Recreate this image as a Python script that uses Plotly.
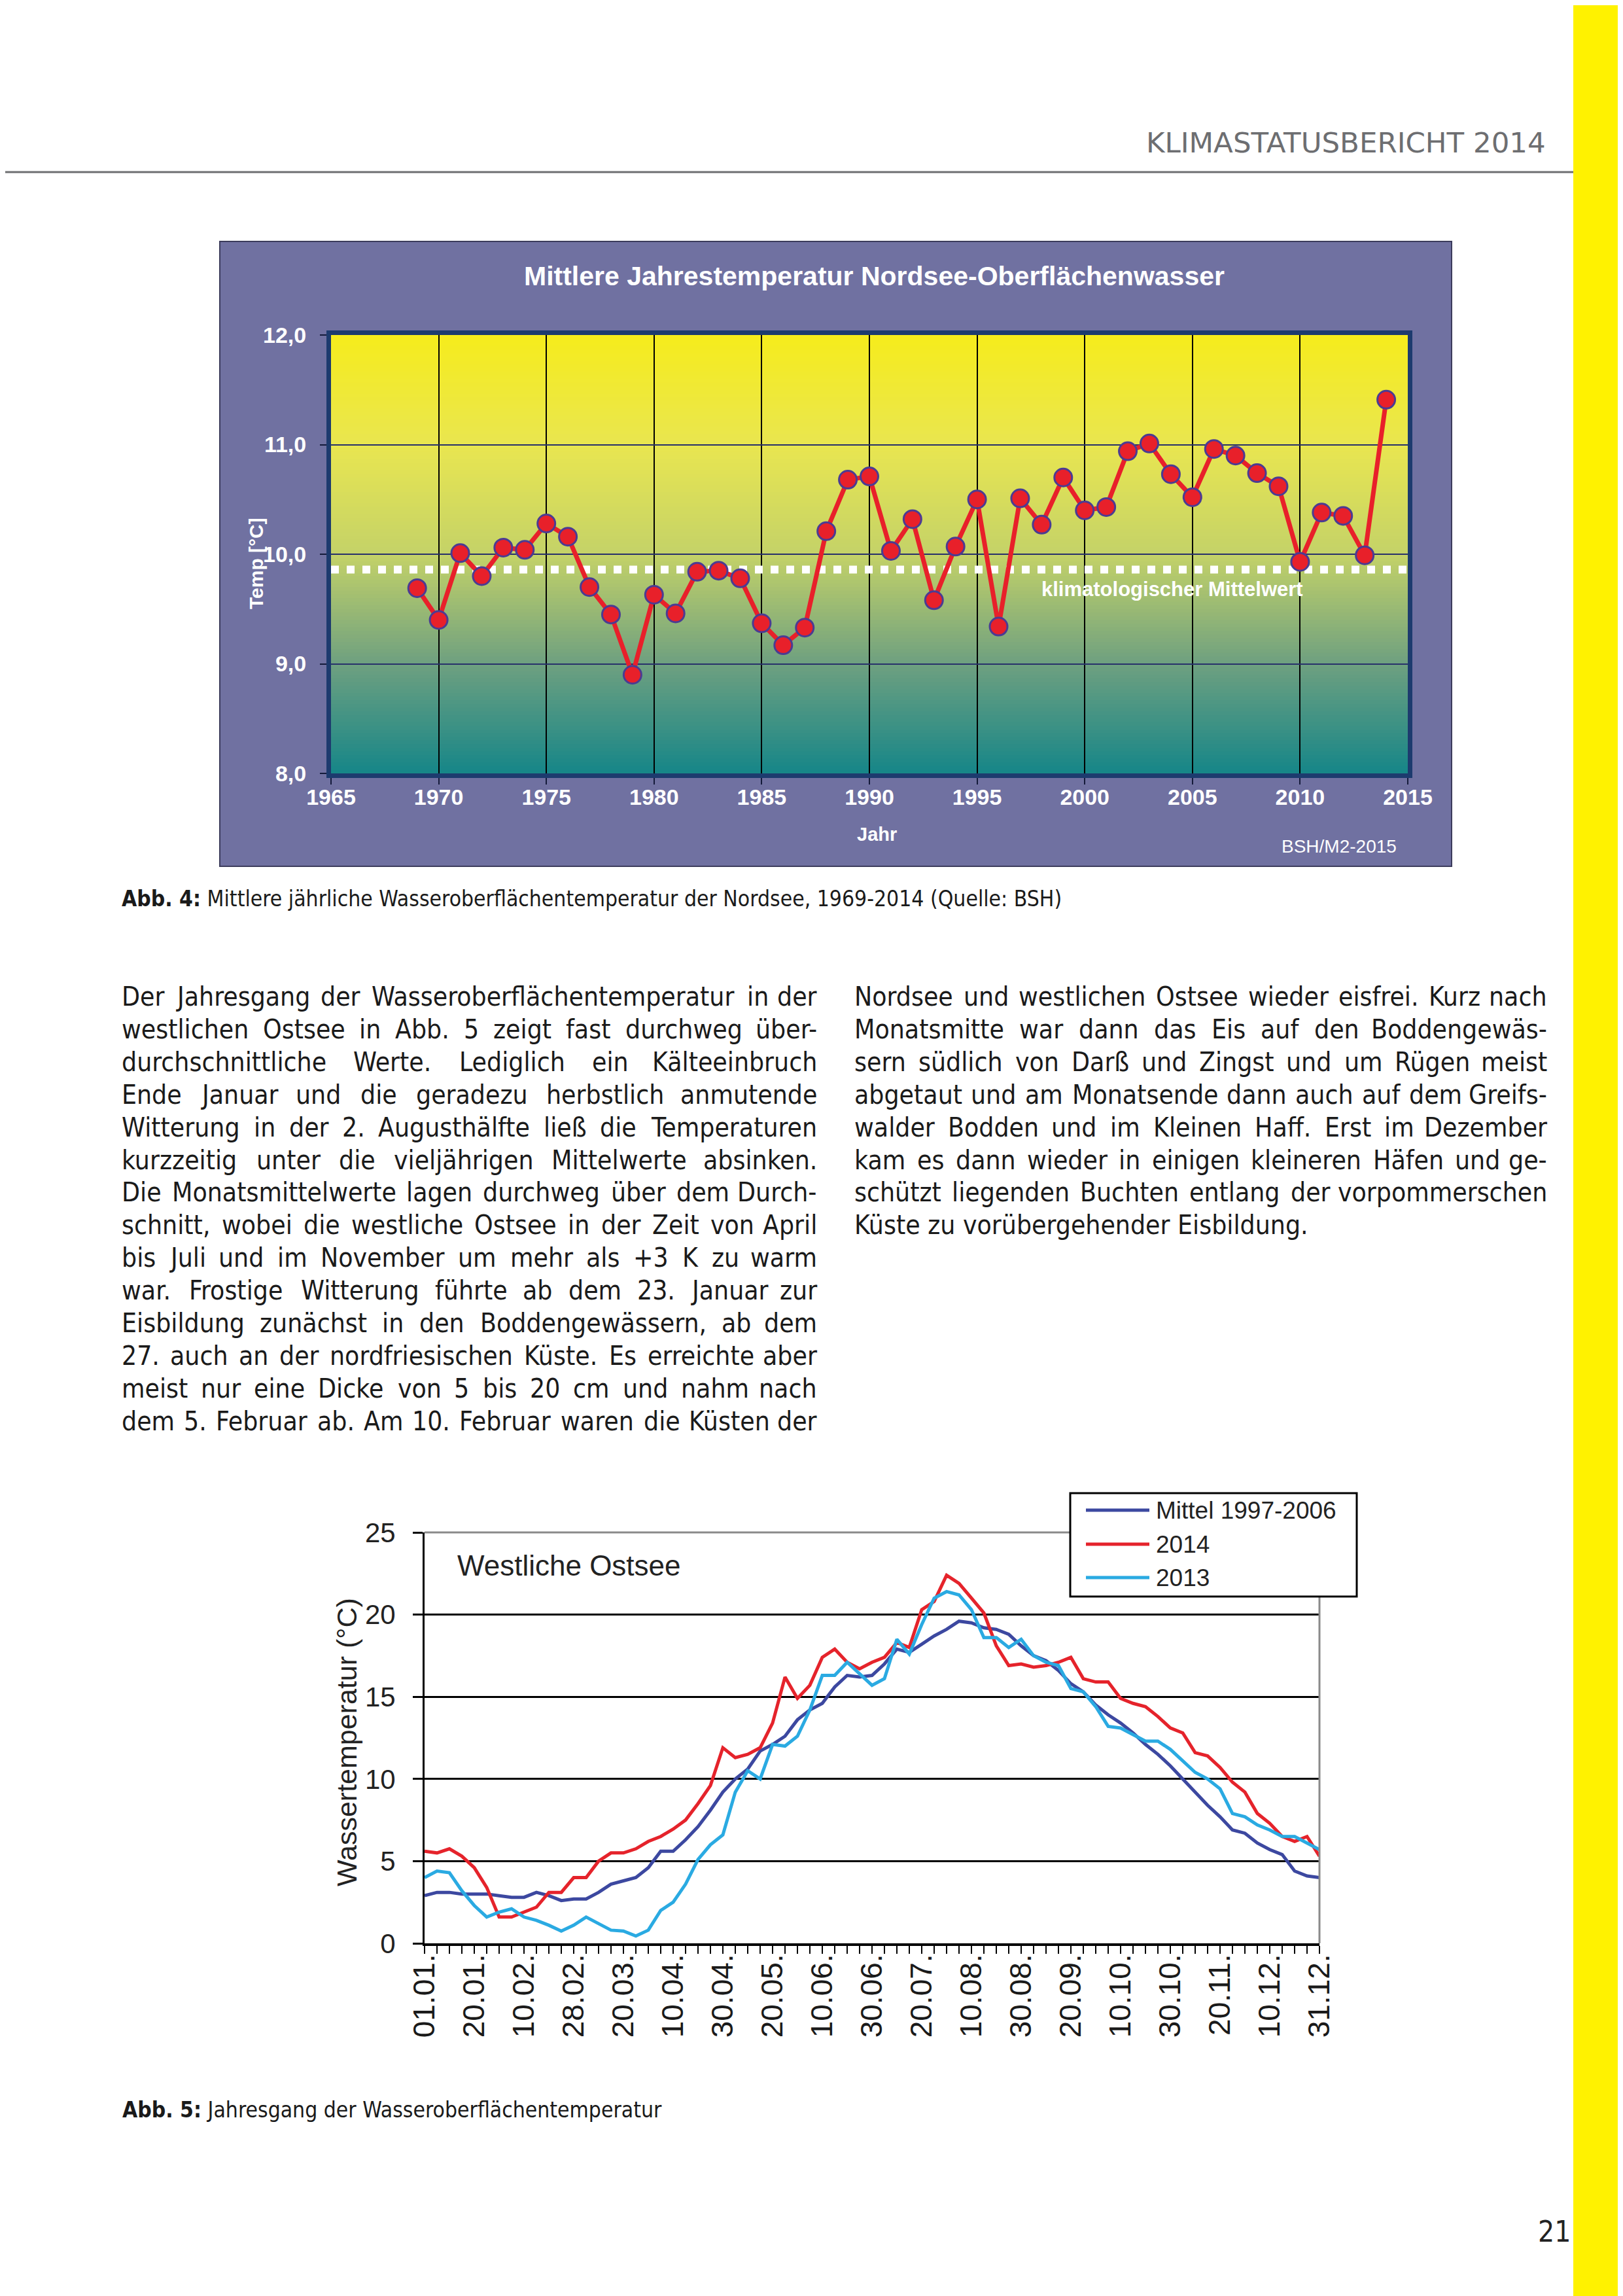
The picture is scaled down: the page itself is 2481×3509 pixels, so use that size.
import plotly.graph_objects as go

W, H = 2481, 3509
OFF = 8  # the page body margin shifts the figure by 8px

# ---------------- Chart 1 data (Nordsee, annual mean SST) ----------------
years = list(range(1969, 2015))
nordsee_temp = [9.69, 9.40, 10.01, 9.80, 10.06, 10.04, 10.28, 10.16, 9.70, 9.45,
                8.90, 9.63, 9.46, 9.84, 9.85, 9.78, 9.37, 9.17, 9.33, 10.21,
                10.68, 10.71, 10.03, 10.32, 9.58, 10.07, 10.50, 9.34, 10.51, 10.27,
                10.70, 10.40, 10.43, 10.94, 11.01, 10.73, 10.52, 10.96, 10.90, 10.74,
                10.62, 9.93, 10.38, 10.35, 9.99, 11.41]
clim_mean = 9.86
x1_ticks = [1965, 1970, 1975, 1980, 1985, 1990, 1995, 2000, 2005, 2010, 2015]
y1_ticks = [8, 9, 10, 11, 12]
y1_ticklabels = ["8,0", "9,0", "10,0", "11,0", "12,0"]

# ---------------- Chart 2 data (westliche Ostsee, pentads) ----------------
pentads = list(range(73))
mittel_1997_2006 = [2.9, 3.1, 3.1, 3.0, 3.0, 3.0, 2.9, 2.8, 2.8, 3.1,
                    2.9, 2.6, 2.7, 2.7, 3.1, 3.6, 3.8, 4.0, 4.6, 5.6,
                    5.6, 6.3, 7.1, 8.1, 9.2, 10.0, 10.6, 11.7, 12.1, 12.6,
                    13.6, 14.2, 14.6, 15.6, 16.3, 16.2, 16.3, 17.0, 17.9, 17.7,
                    18.2, 18.7, 19.1, 19.6, 19.5, 19.2, 19.1, 18.8, 18.1, 17.5,
                    17.2, 16.6, 15.8, 15.3, 14.5, 13.9, 13.4, 12.8, 12.1, 11.5,
                    10.8, 10.0, 9.2, 8.4, 7.7, 6.9, 6.7, 6.1, 5.7, 5.4,
                    4.4, 4.1, 4.0]
temp_2014 = [5.6, 5.5, 5.75, 5.3, 4.6, 3.4, 1.6, 1.6, 1.9, 2.2,
             3.1, 3.1, 4.0, 4.0, 5.0, 5.5, 5.5, 5.75, 6.2, 6.5,
             6.95, 7.5, 8.5, 9.6, 11.9, 11.3, 11.5, 11.9, 13.4, 16.2,
             14.9, 15.7, 17.4, 17.9, 17.1, 16.7, 17.1, 17.4, 18.3, 18.0,
             20.3, 20.8, 22.4, 21.9, 21.0, 20.1, 18.1, 16.9, 17.0, 16.8,
             16.9, 17.1, 17.4, 16.1, 15.9, 15.9, 14.9, 14.6, 14.4, 13.8,
             13.1, 12.8, 11.6, 11.4, 10.7, 9.8, 9.2, 7.9, 7.3, 6.5,
             6.2, 6.5, 5.3]
temp_2013 = [4.0, 4.4, 4.3, 3.2, 2.3, 1.6, 1.9, 2.1, 1.6, 1.4,
             1.1, 0.75, 1.1, 1.6, 1.2, 0.8, 0.75, 0.45, 0.8, 2.0,
             2.5, 3.6, 5.1, 6.0, 6.6, 9.2, 10.5, 10.0, 12.1, 12.0,
             12.6, 14.2, 16.3, 16.3, 17.1, 16.4, 15.7, 16.1, 18.5, 17.6,
             19.4, 21.0, 21.4, 21.2, 20.3, 18.6, 18.6, 18.0, 18.5, 17.5,
             17.1, 16.9, 15.5, 15.3, 14.4, 13.2, 13.1, 12.7, 12.3, 12.3,
             11.8, 11.1, 10.4, 10.0, 9.4, 7.9, 7.7, 7.2, 6.9, 6.5,
             6.5, 6.1, 5.7]
date_ticks = ["01.01.", "20.01.", "10.02.", "28.02.", "20.03.", "10.04.", "30.04.",
              "20.05.", "10.06.", "30.06.", "20.07.", "10.08.", "30.08.", "20.09.",
              "10.10.", "30.10.", "20.11.", "10.12.", "31.12."]
date_tickvals = [0, 4, 8, 12, 16, 20, 24, 28, 32, 36, 40, 44, 48, 52, 56, 60, 64, 68, 72]
y2_ticks = [0, 5, 10, 15, 20, 25]
series_names = ["Mittel 1997-2006", "2014", "2013"]
series_colors = ["#3c48a0", "#e5232b", "#2aaae2"]

# ---------------- page text ----------------
header_text = "KLIMASTATUSBERICHT 2014"
chart1_title = "Mittlere Jahrestemperatur Nordsee-Oberflächenwasser"
caption4 = "<b>Abb. 4:</b> Mittlere jährliche Wasseroberflächentemperatur der Nordsee, 1969-2014 (Quelle: BSH)"
caption5 = "<b>Abb. 5:</b> Jahresgang der Wasseroberflächentemperatur"
left_col = [
    "Der Jahresgang der Wasseroberflächentemperatur in der",
    "westlichen Ostsee in Abb. 5 zeigt fast durchweg über-",
    "durchschnittliche Werte. Lediglich ein Kälteeinbruch",
    "Ende Januar und die geradezu herbstlich anmutende",
    "Witterung in der 2. Augusthälfte ließ die Temperaturen",
    "kurzzeitig unter die vieljährigen Mittelwerte absinken.",
    "Die Monatsmittelwerte lagen durchweg über dem Durch-",
    "schnitt, wobei die westliche Ostsee in der Zeit von April",
    "bis Juli und im November um mehr als +3 K zu warm",
    "war. Frostige Witterung führte ab dem 23. Januar zur",
    "Eisbildung zunächst in den Boddengewässern, ab dem",
    "27. auch an der nordfriesischen Küste. Es erreichte aber",
    "meist nur eine Dicke von 5 bis 20 cm und nahm nach",
    "dem 5. Februar ab. Am 10. Februar waren die Küsten der",
]
right_col = [
    "Nordsee und westlichen Ostsee wieder eisfrei. Kurz nach",
    "Monatsmitte war dann das Eis auf den Boddengewäs-",
    "sern südlich von Darß und Zingst und um Rügen meist",
    "abgetaut und am Monatsende dann auch auf dem Greifs-",
    "walder Bodden und im Kleinen Haff. Erst im Dezember",
    "kam es dann wieder in einigen kleineren Häfen und ge-",
    "schützt liegenden Buchten entlang der vorpommerschen",
    "Küste zu vorübergehender Eisbildung.",
]


def fx(x):
    return (x - OFF) / W


def fy(y):
    return 1 - (y - OFF) / H


BODY_FONT = "DejaVu Sans Condensed, DejaVu Sans"
ARIAL = "Liberation Sans, Arial"

# approximate advance widths (DejaVu Sans, units per em 2048) used to justify the body text
GLYPH_W = {" ": 651, "(": 799, ")": 799, "+": 1716, ",": 651, "-": 739, ".": 651, ":": 690,
           "A": 1401, "B": 1405, "C": 1430, "D": 1577, "E": 1294, "F": 1178, "G": 1587, "H": 1540,
           "I": 604, "J": 604, "K": 1343, "L": 1141, "M": 1767, "N": 1532, "O": 1612, "P": 1235,
           "Q": 1612, "R": 1423, "S": 1300, "T": 1251, "U": 1499, "V": 1401, "W": 2025, "X": 1403,
           "Y": 1251, "Z": 1403,
           "a": 1255, "b": 1300, "c": 1126, "d": 1300, "e": 1260, "f": 721, "g": 1300, "h": 1298,
           "i": 569, "j": 569, "k": 1186, "l": 569, "m": 1995, "n": 1298, "o": 1253, "p": 1300,
           "q": 1300, "r": 842, "s": 1067, "t": 803, "u": 1298, "v": 1212, "w": 1675, "x": 1212,
           "y": 1212, "z": 1075, "ä": 1255, "ö": 1253, "ü": 1298, "Ä": 1401, "Ö": 1612, "Ü": 1499,
           "ß": 1278}
COND = 0.896  # condensed width factor


def est_width(word, size):
    return sum(GLYPH_W.get(c, 1303) for c in word) * size / 2048 * COND


fig = go.Figure()

# ---- chart 1 traces ----
fig.add_trace(go.Scatter(x=[x1_ticks[0], x1_ticks[-1]], y=[clim_mean, clim_mean], mode="lines",
                         line=dict(color="white", width=12, dash="dot"),
                         xaxis="x", yaxis="y", showlegend=False, hoverinfo="skip"))
fig.add_trace(go.Scatter(x=years, y=nordsee_temp, mode="lines+markers", name="Nordsee",
                         line=dict(color="#e8202a", width=7),
                         marker=dict(size=27, color="#e8202a", line=dict(color="#4b3b93", width=3)),
                         xaxis="x", yaxis="y", showlegend=False))

# ---- chart 2 traces ----
for name, vals, col in zip(series_names, [mittel_1997_2006, temp_2014, temp_2013], series_colors):
    fig.add_trace(go.Scatter(x=pentads, y=vals, mode="lines", name=name,
                             line=dict(color=col, width=5),
                             xaxis="x2", yaxis="y2", showlegend=False))

shapes = []
# yellow strip right
shapes.append(dict(type="rect", xref="paper", yref="paper", x0=fx(2405), x1=1.01, y0=-0.01, y1=1.01,
                   fillcolor="#fff200", line=dict(width=0), layer="below"))
# header rule
shapes.append(dict(type="line", xref="paper", yref="paper", x0=-0.01, x1=fx(2405), y0=fy(263), y1=fy(263),
                   line=dict(color="#6d6e71", width=3), layer="below"))
# purple chart box
shapes.append(dict(type="rect", xref="paper", yref="paper", x0=fx(336), x1=fx(2219), y0=fy(1324), y1=fy(369),
                   fillcolor="#7071a1", line=dict(color="#3c3c5c", width=2), layer="below"))
# gradient in chart-1 plot area
stops = [(0.0, (22, 134, 136)), (0.25, (110, 160, 128)), (0.5, (196, 210, 104)),
         (0.75, (233, 230, 80)), (1.0, (246, 236, 28))]


def grad(t):
    for (t0, c0), (t1, c1) in zip(stops[:-1], stops[1:]):
        if t0 <= t <= t1:
            f = (t - t0) / (t1 - t0)
            return "rgb(%d,%d,%d)" % tuple(round(a + (b - a) * f) for a, b in zip(c0, c1))
    return "rgb(%d,%d,%d)" % stops[-1][1]


NB = 120
for k in range(NB):
    t0 = k / NB
    t1 = (k + 1) / NB
    shapes.append(dict(type="rect", xref="x domain", yref="y domain", x0=0, x1=1, y0=t0, y1=t1 + 0.002,
                       fillcolor=grad((t0 + t1) / 2), line=dict(width=0), layer="below"))

# chart 2: gray plot-area border top & right
shapes.append(dict(type="path", xref="paper", yref="paper",
                   path="M %f,%f L %f,%f L %f,%f" % (fx(649), fy(2342), fx(2017), fy(2342), fx(2017), fy(2970)),
                   line=dict(color="#8a8a8a", width=3), layer="above"))
# chart 2 manual legend box
shapes.append(dict(type="rect", xref="paper", yref="paper", x0=fx(1636), x1=fx(2074), y0=fy(2440), y1=fy(2282),
                   fillcolor="white", line=dict(color="black", width=3), layer="above"))
legend_rows = [2308, 2360, 2411]
for row, col in zip(legend_rows, series_colors):
    shapes.append(dict(type="line", xref="paper", yref="paper", x0=fx(1660), x1=fx(1757), y0=fy(row), y1=fy(row),
                       line=dict(color=col, width=5), layer="above"))

ann = []


def text(x, y, s, size, color="#1a1a1a", family=BODY_FONT, xanchor="left", weight="normal", angle=0):
    ann.append(dict(x=fx(x), y=fy(y), xref="paper", yref="paper", text=s, showarrow=False,
                    xanchor=xanchor, yanchor="middle", textangle=angle,
                    font=dict(family=family, size=size, color=color, weight=weight)))


def body_line(x0, x1, y, line, size, justify=True):
    words = line.split(" ")
    if not justify or len(words) < 2:
        text(x0, y, line, size)
        return
    widths = [est_width(w, size) for w in words]
    gap = (x1 - x0 - sum(widths)) / (len(words) - 1)
    x = x0
    for i, (w, wd) in enumerate(zip(words, widths)):
        if i == len(words) - 1:
            text(x1, y, w, size, xanchor="right")
        else:
            text(x, y, w, size)
        x += wd + gap


# header
text(2365, 218, header_text, 43.5, color="#6d6e71", family="DejaVu Sans", xanchor="right")
# chart 1 texts
text(1336, 422, "<b>" + chart1_title + "</b>", 41, color="white", family=ARIAL, xanchor="center")
text(391, 861, "<b>Temp [°C]</b>", 30, color="white", family=ARIAL, xanchor="center", angle=-90)
text(1340, 1275, "<b>Jahr</b>", 29, color="white", family=ARIAL, xanchor="center")
text(2137, 1293, "BSH/M2-2015", 28, color="white", family=ARIAL, xanchor="right")
text(1590, 900, "<b>klimatologischer Mittelwert</b>", 31, color="white", family=ARIAL)
# caption 4
text(184, 1373, caption4, 33.4)
# body text (justified columns)
BODY_SIZE = 40.5
for k, line in enumerate(left_col):
    body_line(184, 1251, 1523 + 49.9 * k, line, BODY_SIZE)
for k, line in enumerate(right_col):
    body_line(1304, 2367, 1523 + 49.9 * k, line, BODY_SIZE, justify=(k < len(right_col) - 1))
# chart 2 texts
text(697, 2392, "Westliche Ostsee", 44, color="#222222", family=ARIAL)
text(530, 2663, "Wassertemperatur (°C)", 43, color="#222222", family=ARIAL, xanchor="center", angle=-90)
for row, name in zip(legend_rows, series_names):
    text(1765, row, name, 37, color="#222222", family=ARIAL)
# caption 5
text(185, 3224, caption5, 33.4)
# page number
text(2403, 3410, "21", 44, color="#222222", xanchor="right")

fig.update_layout(
    width=W, height=H, margin=dict(l=0, r=0, t=0, b=0, pad=0, autoexpand=False),
    paper_bgcolor="white", plot_bgcolor="rgba(0,0,0,0)",
    showlegend=False, shapes=shapes, annotations=ann,
    xaxis=dict(domain=[fx(506), fx(2152)], range=[x1_ticks[0], x1_ticks[-1]], tickvals=x1_ticks,
               ticks="outside", ticklen=10, tickwidth=2, tickcolor="#141a3a",
               showgrid=True, gridcolor="black", gridwidth=1.5, zeroline=False,
               showline=True, linecolor="#1d3b6e", linewidth=7, mirror=True, automargin=False,
               tickfont=dict(family=ARIAL, size=34, color="white", weight="bold"),
               ticklabelstandoff=-10, anchor="y"),
    yaxis=dict(domain=[fy(1182), fy(512)], range=[y1_ticks[0], y1_ticks[-1]], tickvals=y1_ticks,
               ticktext=y1_ticklabels, ticks="outside", ticklen=10, tickwidth=2, tickcolor="#141a3a",
               showgrid=True, gridcolor="#27306a", gridwidth=1.5, zeroline=False,
               showline=True, linecolor="#1d3b6e", linewidth=7, mirror=True, automargin=False,
               tickfont=dict(family=ARIAL, size=34, color="white", weight="bold"),
               ticklabelstandoff=14, anchor="x"),
    xaxis2=dict(domain=[fx(649), fx(2017)], range=[pentads[0], pentads[-1]], tickvals=date_tickvals,
                ticktext=date_ticks, tickangle=-90, ticks="outside", ticklen=12, tickwidth=2,
                tickcolor="black", minor=dict(ticks="outside", ticklen=12, tickwidth=2, tickcolor="black",
                                              dtick=1, tick0=0, showgrid=False),
                showgrid=False, zeroline=False, showline=True, linecolor="black", linewidth=4,
                automargin=False,
                tickfont=dict(family=ARIAL, size=46, color="#1a1a1a"), ticklabelstandoff=-18, anchor="y2"),
    yaxis2=dict(domain=[fy(2970), fy(2342)], range=[y2_ticks[0], y2_ticks[-1]], tickvals=y2_ticks,
                ticks="outside", ticklen=15, tickwidth=3, tickcolor="black",
                showgrid=True, gridcolor="black", gridwidth=3, zeroline=False,
                showline=True, linecolor="black", linewidth=3, automargin=False,
                tickfont=dict(family=ARIAL, size=42, color="#222222"), ticklabelstandoff=18, anchor="x2"),
)

fig.write_html("out.html")
